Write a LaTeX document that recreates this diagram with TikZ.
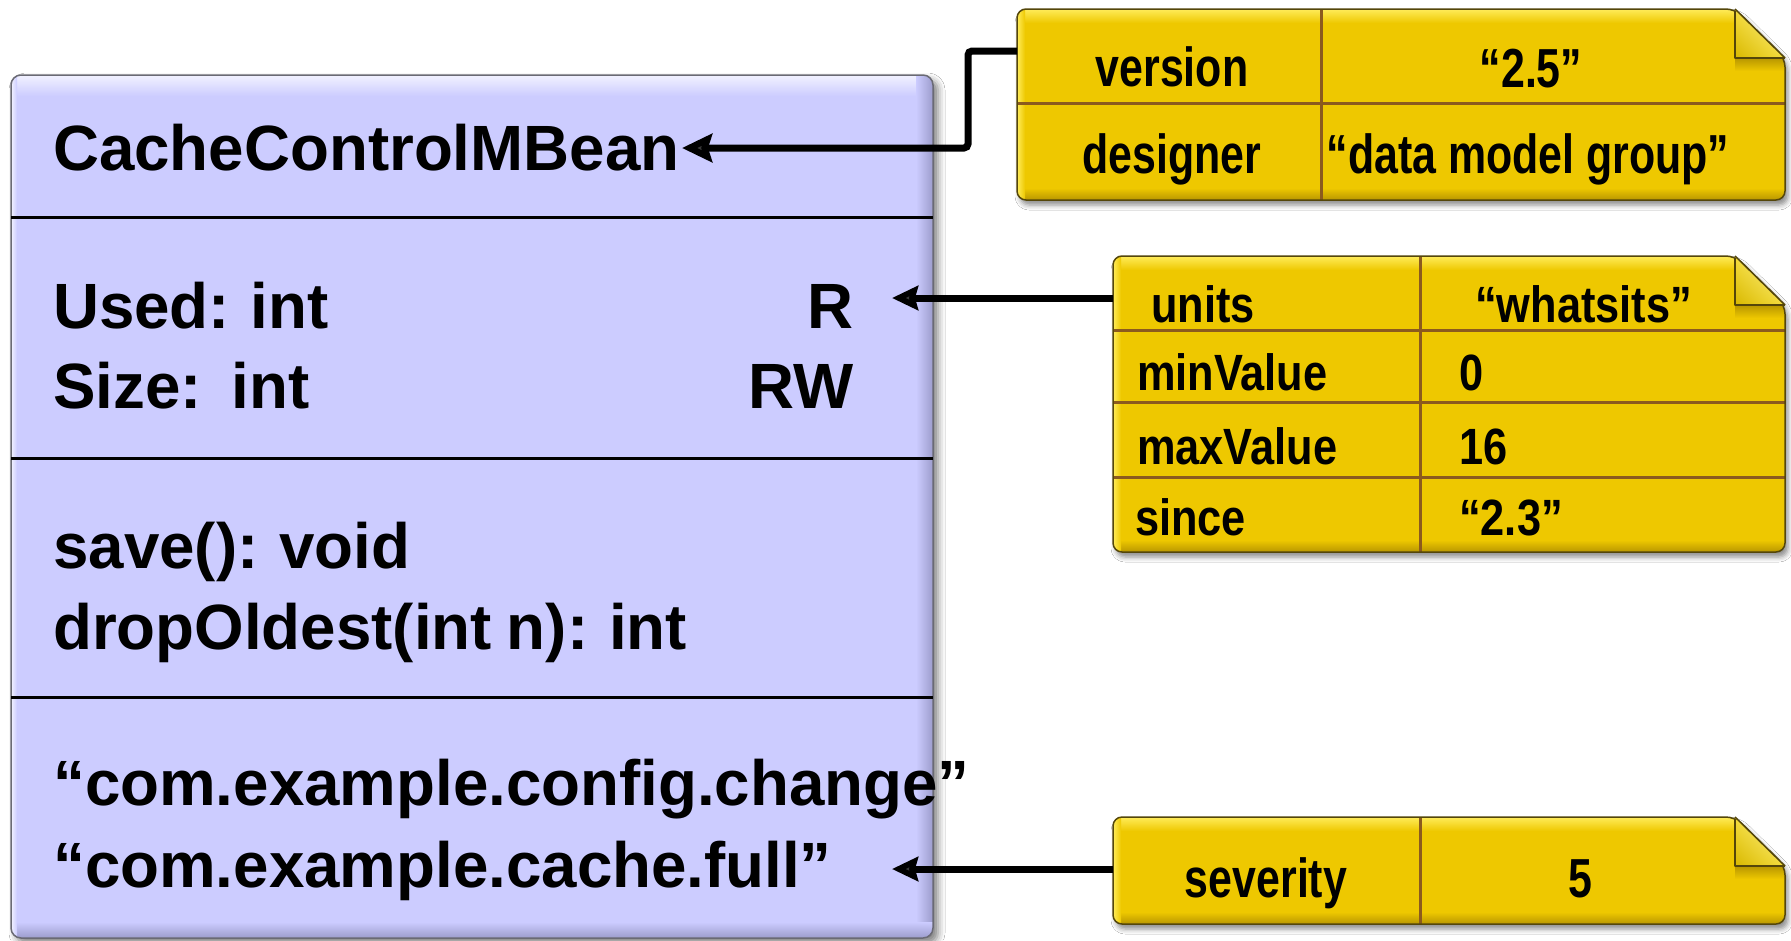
\documentclass[tikz,border=0pt]{standalone}
\usepackage{fontspec}
\setmainfont{Liberation Sans}
\newfontfamily\classfont{Liberation Sans}[FakeStretch=0.995, WordSpace=0.85]
\newfontfamily\tagfont{Liberation Sans}[FakeStretch=0.78]
\newfontfamily\tagfontnarrow{Liberation Sans}[FakeStretch=0.85]
\usetikzlibrary{arrows.meta,shadows.blur,shadings}

\definecolor{boxfill}{HTML}{CCCCFF}
\definecolor{boxlight}{HTML}{F2F2FF}
\definecolor{boxdark}{HTML}{9C9CCC}
\definecolor{boxedge}{HTML}{6A6A74}
\definecolor{notefill}{HTML}{EEC800}
\definecolor{notelight}{HTML}{FFEC5A}
\definecolor{notedark}{HTML}{B89600}
\definecolor{noteedge}{HTML}{54460A}
\definecolor{notegrid}{HTML}{8B5A1E}
\definecolor{flaplight}{HTML}{FFF49A}
\definecolor{flapmid}{HTML}{F4DC3C}
\definecolor{flapdark}{HTML}{D8B800}

\tikzset{
  umltext/.style={inner sep=0pt, font=\classfont\fontsize{64}{64}\selectfont\bfseries},
  tagtext/.style={inner sep=0pt, font=\tagfont\fontsize{55}{55}\selectfont\bfseries},
  tagtextsm/.style={inner sep=0pt, font=\tagfontnarrow\fontsize{51}{51}\selectfont\bfseries},
  link/.style={line width=7pt, -{Stealth[length=26pt,width=24pt,inset=3pt]}},
  linkbig/.style={line width=7pt, rounded corners=4pt, -{Stealth[length=30pt,width=28pt,inset=4pt]}},
  divider/.style={line width=3pt, black},
  tablegrid/.style={line width=3pt, notegrid},
}

% a yellow tag note with a folded top-right corner: #1,#2 top-left, #3,#4 bottom-right
\newcommand\tagnote[4]{%
  \path[blur shadow={shadow xshift=3pt,shadow yshift=-5pt,shadow blur radius=5pt,shadow opacity=45},
        fill=notefill, rounded corners=9pt]
    (#1,#2) -- ({#3-50},#2) -- (#3,{#2+49}) -- (#3,#4) -- (#1,#4) -- cycle;
  \begin{scope}
    \clip[rounded corners=9pt]
      (#1,#2) -- ({#3-50},#2) -- (#3,{#2+49}) -- (#3,#4) -- (#1,#4) -- cycle;
    \shade[top color=notelight, bottom color=notefill] (#1,#2) rectangle (#3,{#2+14});
    \shade[top color=notefill, bottom color=notedark] (#1,{#4-12}) rectangle (#3,#4);
    \shade[left color=notelight, right color=notefill] (#1,#2) rectangle ({#1+8},#4);
    \shade[top color=notedark, bottom color=notefill] ({#3-50},{#2+49}) rectangle (#3,{#2+62});
  \end{scope}
}
\newcommand\tagoutline[4]{%
  \draw[noteedge, line width=1.5pt, rounded corners=9pt]
    (#1,#2) -- ({#3-50},#2) -- (#3,{#2+49}) -- (#3,#4) -- (#1,#4) -- cycle;
  \shade[upper right=flaplight, upper left=flapmid, lower right=flapmid, lower left=flapdark]
    ({#3-50},#2) -- ({#3-50},{#2+49}) -- (#3,{#2+49}) -- cycle;
  \draw[noteedge, line width=2pt, line join=round]
    ({#3-50},{#2+2}) -- ({#3-50},{#2+49}) -- (#3,{#2+49});
  \draw[noteedge, line width=1.5pt] ({#3-50},#2) -- (#3,{#2+49});
}

\begin{document}
\begin{tikzpicture}[x=1pt, y=-1pt]
  \useasboundingbox (0,0) rectangle (1791,940);
  \fill[white] (0,0) rectangle (1791,940);

  % ---- MBean class box ----
  \path[blur shadow={shadow xshift=5pt,shadow yshift=-5pt,shadow blur radius=7pt,shadow opacity=50},
        fill=boxfill, rounded corners=10pt] (11,75) rectangle (933,938);
  \begin{scope}
    \clip[rounded corners=10pt] (11,75) rectangle (933,938);
    \shade[top color=boxlight, bottom color=boxfill] (11,75) rectangle (933,96);
    \shade[left color=boxfill, right color=boxdark] (916,75) rectangle (933,938);
    \shade[top color=boxfill, bottom color=boxdark] (11,922) rectangle (933,938);
    \shade[left color=boxlight, right color=boxfill] (11,75) rectangle (17,938);
  \end{scope}
  \draw[boxedge, line width=1.5pt, rounded corners=10pt] (11,75) rectangle (933,938);
  \draw[divider] (11,217) -- (933,217);
  \draw[divider] (11,458) -- (933,458);
  \draw[divider] (11,697) -- (933,697);

  \node[umltext, anchor=base west] (cls) at (53,170) {CacheControlMBean};
  \node[umltext, anchor=base west] (attrUsed) at (53,328) {Used: int};
  \node[umltext, anchor=base east] (accUsed) at (854,328) {R};
  \node[umltext, anchor=base west] (attrSize) at (53,408) {Size:\ \ int};
  \node[umltext, anchor=base east] (accSize) at (854,408) {RW};
  \node[umltext, anchor=base west] (opSave) at (53,568) {save(): void};
  \node[umltext, anchor=base west] (opDrop) at (53,649) {dropOldest(int n): int};
  \node[umltext, anchor=base west] (ntfChange) at (53,805) {“com.example.config.change”};
  \node[umltext, anchor=base west] (ntfFull) at (53,887) {“com.example.cache.full”};

  % ---- descriptor tags ----
  \tagnote{1017}{9}{1785}{200}
  \draw[tablegrid] (1321,9) -- (1321,200);
  \draw[tablegrid] (1017,103) -- (1785,103);
  \tagoutline{1017}{9}{1785}{200}

  \tagnote{1113}{256}{1785}{552}
  \draw[tablegrid] (1420,256) -- (1420,552);
  \draw[tablegrid] (1113,330) -- (1785,330);
  \draw[tablegrid] (1113,402) -- (1785,402);
  \draw[tablegrid] (1113,477) -- (1785,477);
  \tagoutline{1113}{256}{1785}{552}

  \tagnote{1113}{817}{1785}{924}
  \draw[tablegrid] (1420,817) -- (1420,924);
  \tagoutline{1113}{817}{1785}{924}

  \node[tagtext, anchor=base] (kVersion) at (1172,86) {version};
  \node[tagtext, anchor=base] (vVersion) at (1531,87) {“2.5”};
  \node[tagtext, anchor=base] (kDesigner) at (1172,173) {designer};
  \node[tagtext, anchor=base] (vDesigner) at (1528,173) {“data model group”};

  \node[tagtextsm, anchor=base west] (kUnits) at (1151,322) {units};
  \node[tagtextsm, anchor=base west] (vUnits) at (1475,322) {“whatsits”};
  \node[tagtextsm, anchor=base west] (kMin) at (1137,390) {minValue};
  \node[tagtextsm, anchor=base west] (vMin) at (1459,390) {0};
  \node[tagtextsm, anchor=base west] (kMax) at (1137,464) {maxValue};
  \node[tagtextsm, anchor=base west] (vMax) at (1459,464) {16};
  \node[tagtextsm, anchor=base west] (kSince) at (1135,535) {since};
  \node[tagtextsm, anchor=base west] (vSince) at (1459,535) {“2.3”};

  \node[tagtext, anchor=base] (kSeverity) at (1266,897) {severity};
  \node[tagtext, anchor=base] (vSeverity) at (1580,897) {5};

  % ---- connectors ----
  \coordinate (tagClass) at (1017,51);
  \coordinate (clsTip) at (682,148);
  \coordinate (tagAttr) at (1113,298);
  \coordinate (attrTip) at (892,298);
  \coordinate (tagNotif) at (1113,869);
  \coordinate (notifTip) at (892,869);

  \draw[linkbig] (tagClass) -- ++(-49,0) |- (clsTip);
  \draw[link] (tagAttr) -- (attrTip);
  \draw[link] (tagNotif) -- (notifTip);
\end{tikzpicture}
\end{document}
